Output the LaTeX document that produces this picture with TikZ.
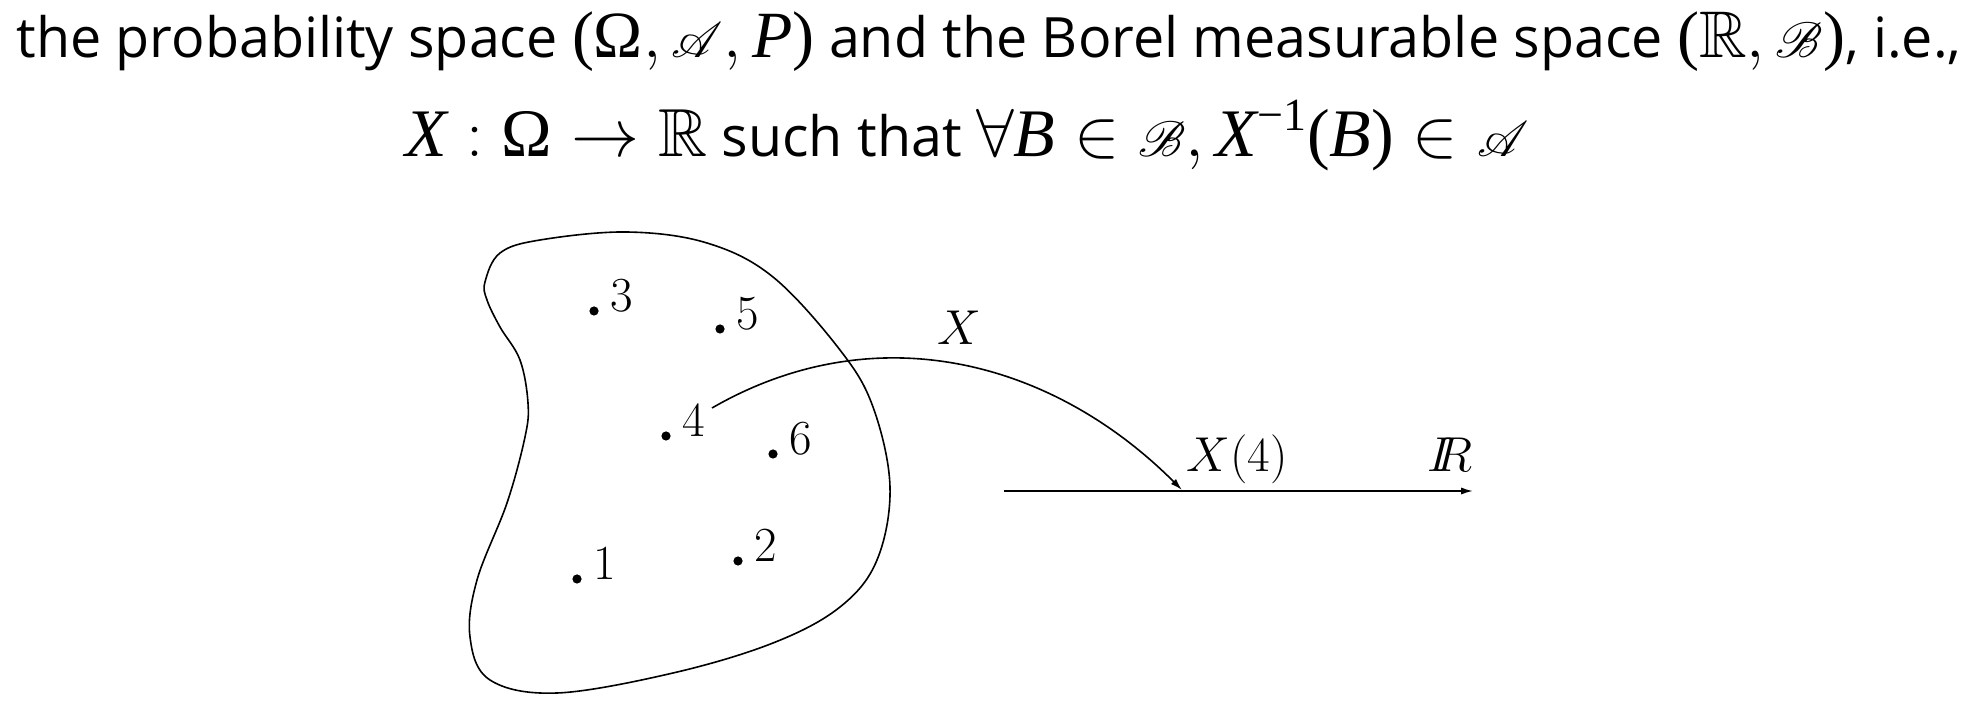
\RequirePackage{fix-cm}
\documentclass[tikz,border=0pt]{standalone}
\usepackage{amssymb}
\usepackage{mathrsfs}
\usepackage{fontspec}
\setmainfont{Open Sans}
\newfontfamily\tms{Liberation Serif}
\newfontfamily\lmr{Latin Modern Roman}
\newcommand{\ti}[1]{\mbox{\tms\itshape #1}}
\newcommand{\tr}[1]{\mbox{\tms #1}}
\newcommand{\mth}[1]{{\fontsize{33}{38}\selectfont$#1$}}
\newcommand{\mthb}[1]{{\fontsize{34}{38}\selectfont$#1$}}
\usetikzlibrary{arrows.meta}

\begin{document}
\begin{tikzpicture}[x=0.5pt, y=-0.5pt, line width=0.8pt,
  hdr/.style={anchor=base, inner sep=0pt, font=\fontsize{27.8}{34}\selectfont},
  dot/.style={circle, fill, inner sep=0pt, minimum size=4.6pt},
  lab/.style={anchor=base west, inner sep=0pt, font=\lmr\fontsize{24.5}{28}\selectfont},
  mlab/.style={anchor=base, inner sep=0pt, font=\lmr\fontsize{24.5}{28}\selectfont},
  tip/.style={-{Latex[length=6pt,width=3.6pt]}}]
  \useasboundingbox (0,0) rectangle (1986,710);
  % heading
  \node[hdr] (line1) at (989,58) {the probability space \mth{\tr{(}\tr{Ω}, \mathscr{A}, \ti{P}\tr{)}} and the Borel measurable space \mth{\tr{(}\mathbb{R}, \mathscr{B}\tr{)}}, i.e.,};
  \node[hdr] (line2) at (967,157) {\mthb{\ti{X} : \tr{Ω} \rightarrow \mathbb{R}} such that \mthb{\forall\ti{B} \in \mathscr{B}, \ti{X}^{\tr{\fontsize{23}{25}\selectfont −1}}\tr{(}\ti{B}\tr{)} \in \mathscr{A}}};
  % the set Omega
  \draw plot[smooth cycle, tension=0.6] coordinates {(485,282) (500,253) (540,240) (627,232) (707,243) (773,277) (840,350) (873,407) (890,487) (877,560) (840,607) (773,643) (673,673) (557,693) (490,680) (470,637) (477,580) (507,503) (525,437) (528,403) (520,360) (500,327) (487,300)};
  % outcomes
  \foreach \n/\x/\y in {1/577/579, 2/738/561, 3/594/311, 4/666/436, 5/720/329, 6/773/454}{
    \node[dot] (d\n) at (\x,\y) {};
    \node[lab] (l\n) at (\x+16,\y+1) {$\n$};
  }
  % real line
  \coordinate (a0) at (1004,491);
  \coordinate (a1) at (1473,491);
  \draw[tip] (a0) -- (a1);
  \node[mlab] (rl) at (1450,472) {$I\!\!R$};
  % the map X
  \coordinate (s4) at (712,408);
  \coordinate (x4) at (1182,490);
  \draw[tip] (s4) to[out=30, in=135] (x4);
  \node[mlab] (xl) at (959,345) {$X$};
  \node[mlab] (x4l) at (1237,472) {$X(4)$};
\end{tikzpicture}
\end{document}
